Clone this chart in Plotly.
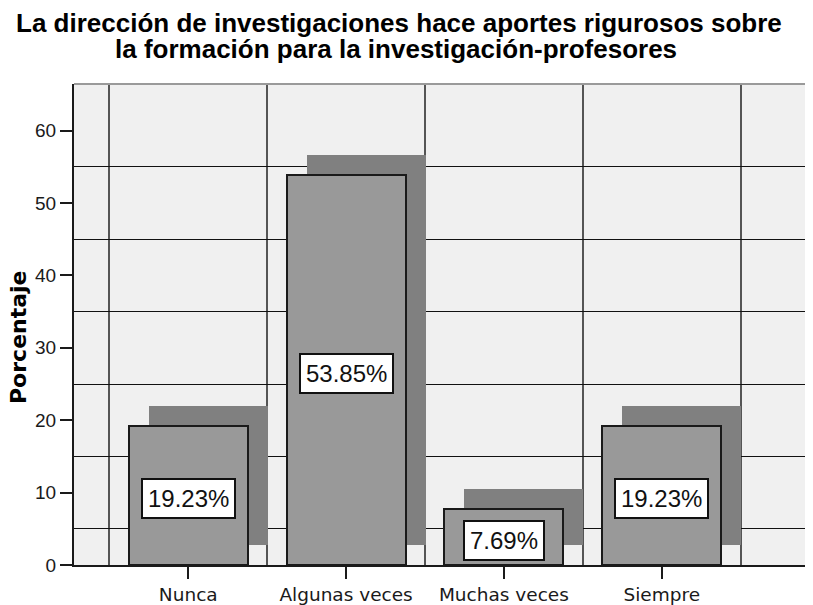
import plotly.graph_objects as go

# ---- data ----
categories = ["Nunca", "Algunas veces", "Muchas veces", "Siempre"]
percent = [19.23, 53.85, 7.69, 19.23]
labels = ["19.23%", "53.85%", "7.69%", "19.23%"]
y_ticks = [0, 10, 20, 30, 40, 50, 60]
y_grid = [5, 15, 25, 35, 45, 55]

title_line1 = "La dirección de investigaciones hace aportes rigurosos sobre"
title_line2 = "la formación para la investigación-profesores"
y_title = "Porcentaje"

# ---- layout geometry (pixels); page body adds an 8px margin ----
OFF = 8
W, H = 813 - OFF, 605 - OFF
L, T = 74 - OFF, 84 - OFF
R = W - (811 - OFF)
B = H - (565 - OFF)
plot_h = H - T - B
plot_w = W - L - R
x_range = [-0.724, 3.946]
y_range = [0, 66.45]
bar_w = 0.754
shadow_dx = 0.127   # depth offset in category units
shadow_dy = 2.76    # depth offset in value units

pos = list(range(len(categories)))
bounds = [p - 0.5 for p in pos] + [pos[-1] + 0.5]


def py(pix):
    return (H - B - (pix - OFF)) / plot_h


def px(pix):
    return ((pix - OFF) - L) / plot_w


fig = go.Figure()

# shadow (depth) bars
fig.add_trace(go.Bar(
    x=[p + shadow_dx for p in pos], y=percent, base=shadow_dy,
    width=bar_w, marker=dict(color="#808080", line=dict(width=0)),
    hoverinfo="skip", showlegend=False,
))
# front bars
fig.add_trace(go.Bar(
    x=pos, y=percent, width=bar_w,
    marker=dict(color="#999999", line=dict(color="#1a1a1a", width=2)),
    showlegend=False,
))

annotations = []
for p, v, t in zip(pos, percent, labels):
    annotations.append(dict(
        x=p, y=v / 2, xref="x", yref="y", text=t, showarrow=False,
        yshift=-3,
        font=dict(family="Liberation Sans, Arial", size=24, color="#111111"),
        bgcolor="white", bordercolor="#111111", borderwidth=2, borderpad=5,
    ))

annotations += [
    dict(x=px(399), y=py(23), xref="paper", yref="paper", xanchor="center", yanchor="middle",
         showarrow=False, text="<b>" + title_line1 + "</b>",
         font=dict(family="Liberation Sans, Arial", size=26, color="black")),
    dict(x=px(396), y=py(49), xref="paper", yref="paper", xanchor="center", yanchor="middle",
         showarrow=False, text="<b>" + title_line2 + "</b>",
         font=dict(family="Liberation Sans, Arial", size=26, color="black")),
    dict(x=px(18), y=py(337), xref="paper", yref="paper", xanchor="center", yanchor="middle",
         showarrow=False, text="<b>" + y_title + "</b>", textangle=-90,
         font=dict(family="DejaVu Sans", size=22, color="black")),
]

shapes = [
    dict(type="line", xref="paper", yref="paper", x0=0, x1=1, y0=1, y1=1,
         line=dict(color="#9a9a9a", width=2), layer="above"),
    dict(type="line", xref="paper", yref="paper", x0=1, x1=1, y0=0, y1=1,
         line=dict(color="#b0b0b0", width=2), layer="above"),
]

fig.update_layout(
    width=W, height=H,
    margin=dict(l=L, r=R, t=T, b=B, pad=0),
    paper_bgcolor="white",
    plot_bgcolor="#f0f0f0",
    barmode="overlay",
    bargap=0,
    annotations=annotations,
    shapes=shapes,
    xaxis=dict(
        range=x_range, tickmode="array", tickvals=pos, ticktext=categories,
        ticks="outside", ticklen=12, tickwidth=2, tickcolor="#1a1a1a",
        showline=True, linecolor="#1a1a1a", linewidth=2,
        showgrid=False, zeroline=False, automargin=False,
        tickfont=dict(family="DejaVu Sans", size=18.5, color="#1a1a1a"),
        minor=dict(tickmode="array", tickvals=bounds, showgrid=True,
                   gridcolor="#555555", gridwidth=2, ticks=""),
        fixedrange=True,
    ),
    yaxis=dict(
        range=y_range, tickmode="array", tickvals=y_ticks,
        ticks="outside", ticklen=12, tickwidth=2, tickcolor="#1a1a1a",
        showline=True, linecolor="#1a1a1a", linewidth=2,
        showgrid=False, zeroline=False, automargin=False,
        tickfont=dict(family="Liberation Sans, Arial", size=19, color="#1a1a1a"),
        minor=dict(tickmode="array", tickvals=y_grid, showgrid=True,
                   gridcolor="#111111", gridwidth=1, ticks=""),
        fixedrange=True,
    ),
)

fig.write_html("out.html")
